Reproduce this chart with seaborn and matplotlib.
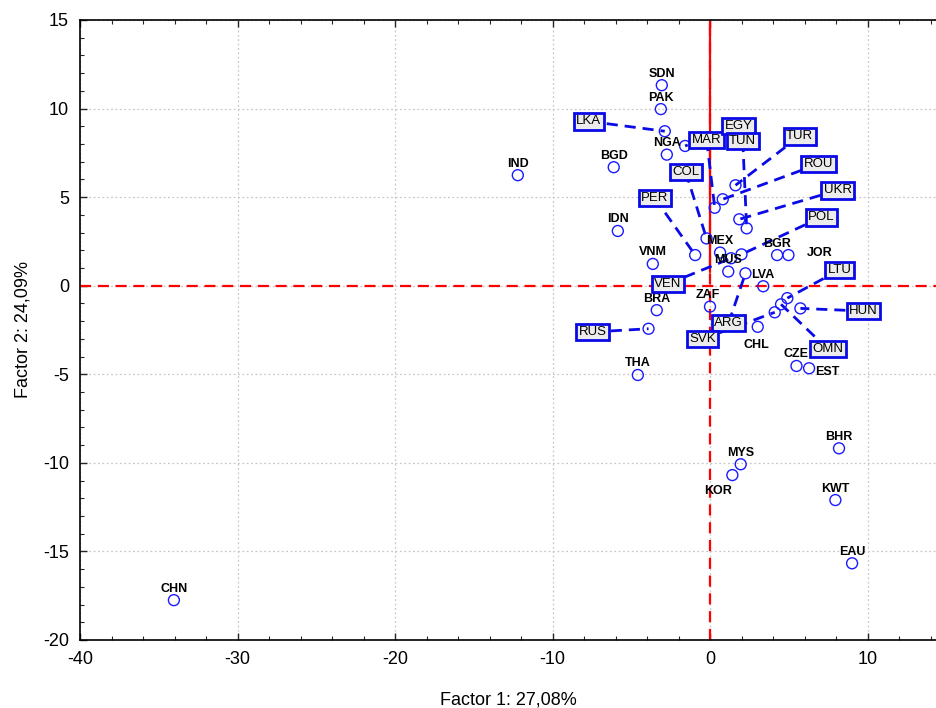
import matplotlib
matplotlib.use("Agg")
import matplotlib.pyplot as plt
import matplotlib.ticker as mticker
import seaborn as sns
import pandas as pd

# factor scores
countries = ["CHN", "IND", "BGD", "SDN", "PAK", "LKA", "NGA", "EGY", "IDN", "VNM",
             "BRA", "RUS", "THA", "PER", "COL", "MEX", "MUS", "VEN", "POL", "MAR",
             "ROU", "TUR", "UKR", "TUN", "ARG", "LVA", "BGR", "JOR", "ZAF", "CHL",
             "SVK", "OMN", "LTU", "HUN", "CZE", "EST", "MYS", "KOR", "BHR", "KWT",
             "EAU"]
factor1 = [-34.04, -12.21, -6.12, -3.07, -3.13, -2.88, -2.75, -1.59, -5.86, -3.64,
           -3.39, -3.91, -4.59, -0.95, -0.23, 0.63, 1.15, 1.33, 1.99, 0.29,
           0.80, 1.61, 1.85, 2.32, 2.24, 3.37, 4.25, 4.97, -0.01, 3.02,
           4.10, 4.50, 4.90, 5.73, 5.48, 6.28, 1.94, 1.41, 8.18, 7.95,
           9.01]
factor2 = [-17.75, 6.24, 6.69, 11.32, 9.97, 8.72, 7.40, 7.89, 3.09, 1.23,
           -1.38, -2.43, -5.04, 1.73, 2.67, 1.87, 0.80, 1.55, 1.77, 4.40,
           4.88, 5.67, 3.75, 3.24, 0.70, -0.03, 1.73, 1.73, -1.18, -2.32,
           -1.50, -1.05, -0.70, -1.28, -4.53, -4.66, -10.08, -10.69, -9.18, -12.10,
           -15.67]

# boxed labels that are pulled away from their points
boxed = ["LKA", "MAR", "EGY", "TUN", "TUR", "ROU", "UKR", "POL", "COL", "PER",
         "LTU", "HUN", "OMN", "ARG", "SVK", "RUS", "VEN"]
box_x = [-7.70, -0.22, 1.80, 2.07, 5.68, 6.88, 8.09, 7.07, -1.55, -3.52,
         8.21, 9.73, 7.46, 1.17, -0.47, -7.45, -2.69]
box_y = [9.28, 8.22, 9.01, 8.17, 8.44, 6.87, 5.39, 3.87, 6.42, 4.95,
         0.89, -1.43, -3.57, -2.11, -3.01, -2.61, 0.10]

df = pd.DataFrame({"country": countries, "f1": factor1, "f2": factor2})

sns.set_style("ticks")
plt.rcParams["font.family"] = ["Liberation Sans", "DejaVu Sans"]
plt.rcParams["axes.unicode_minus"] = False

fig = plt.figure(figsize=(9.37, 7.08), dpi=100)
ax = fig.add_axes([80 / 937, 68 / 708, 1 - 80 / 937, 620 / 708])

ax.set_xlim(-40, 14.4)
ax.set_ylim(-20, 15)
ax.xaxis.set_major_locator(mticker.MultipleLocator(10))
ax.xaxis.set_minor_locator(mticker.MultipleLocator(2))
ax.yaxis.set_major_locator(mticker.MultipleLocator(5))
ax.yaxis.set_minor_locator(mticker.MultipleLocator(1))
ax.grid(True, which="major", color="#c8c8c8", linestyle=(0, (1.5, 2)), linewidth=0.9)

# reference lines
ax.axhline(0, color="red", linestyle=(0, (5, 3)), linewidth=1.6, zorder=2)
ax.axvline(0, color="red", linestyle=(0, (5, 3)), linewidth=1.6, zorder=2)
ax.plot([0, 0], [0.8, 15], color="red", linewidth=1.6, zorder=2)

# connectors from boxes to points
pos = df.set_index("country")
for name, bx, by in zip(boxed, box_x, box_y):
    px, py = pos.loc[name, "f1"], pos.loc[name, "f2"]
    ax.plot([bx, px], [by, py], color="#0a0ae6", linestyle=(0, (4, 2.5)),
            linewidth=2.0, zorder=3)

sns.scatterplot(data=df, x="f1", y="f2", ax=ax, marker="o", s=62,
                facecolors="none", edgecolor="#1a1aff", linewidth=1.0, zorder=4)

# plain labels: offsets in points
offsets = {"JOR": (13, 1.5, "left"), "EST": (4, -2.5, "left"),
           "CHL": (-1, -13, "center"), "KOR": (-10.5, -11.3, "center"),
           "ZAF": (-1.5, 8.5, "center")}
for name, x, y in zip(countries, factor1, factor2):
    if name in boxed:
        continue
    dx, dy, ha = offsets.get(name, (0, 8.3, "center"))
    ax.annotate(name, (x, y), xytext=(dx, dy), textcoords="offset points",
                ha=ha, va="center", fontsize=9, fontweight="bold",
                color="black", zorder=6)

for name, bx, by in zip(boxed, box_x, box_y):
    ax.text(bx, by, name, ha="center", va="center", fontsize=9.5, zorder=7,
            color="black",
            bbox=dict(boxstyle="square,pad=0.18", facecolor="#ececec",
                      edgecolor="#0a0ae6", linewidth=2.0))

ax.tick_params(which="both", direction="in", top=True, right=False)
ax.tick_params(which="major", length=5, width=1, labelsize=13, pad=8,
               labelcolor="black")
ax.tick_params(which="minor", length=3, width=0.8)
ax.tick_params(axis="x", which="both", labeltop=False)
for side in ["left", "bottom", "top"]:
    ax.spines[side].set_linewidth(1.2)
    ax.spines[side].set_color("black")
ax.spines["right"].set_visible(False)

ax.set_xlabel("Factor 1: 27,08%", fontsize=13, labelpad=17, color="black")
ax.set_ylabel("Factor 2: 24,09%", fontsize=13, labelpad=8, color="black")

fig.savefig("out.png", dpi=100)
